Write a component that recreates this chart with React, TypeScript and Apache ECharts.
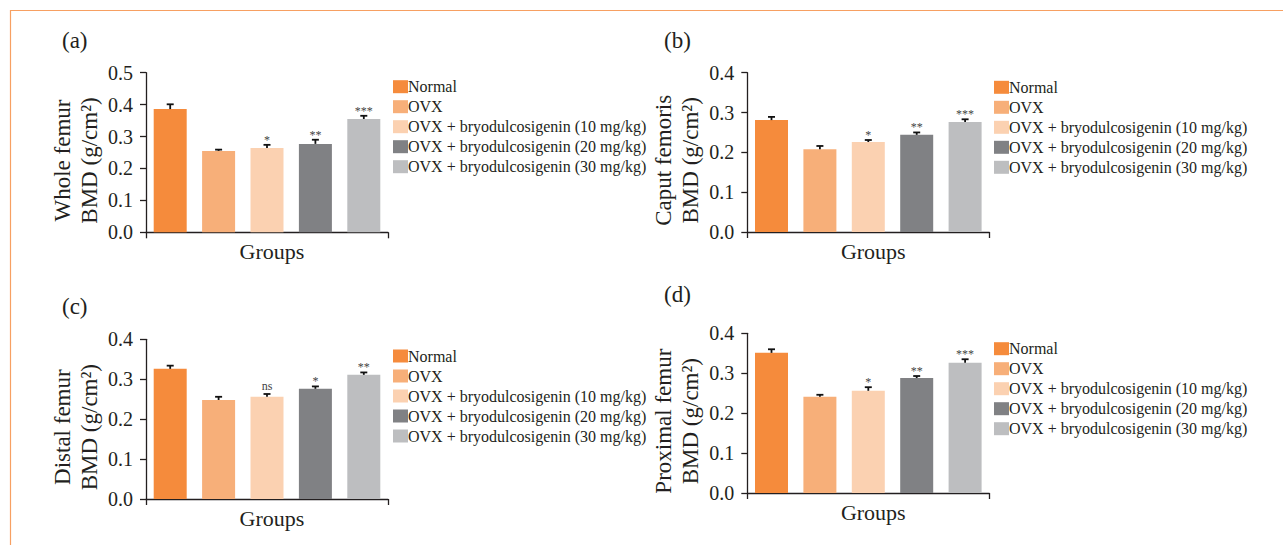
import React, { useEffect, useRef } from "react";
import * as echarts from "echarts";

const groups = [
  "Normal",
  "OVX",
  "OVX + bryodulcosigenin (10 mg/kg)",
  "OVX + bryodulcosigenin (20 mg/kg)",
  "OVX + bryodulcosigenin (30 mg/kg)",
];
const groupColors = ["#F58B3C", "#F7AF79", "#FBD1B1", "#808184", "#BDBEC0"];

const panelLabels = ["(a)", "(b)", "(c)", "(d)"];
const yNames = [
  "Whole femur\nBMD (g/cm²)",
  "Caput femoris\nBMD (g/cm²)",
  "Distal femur\nBMD (g/cm²)",
  "Proximal femur\nBMD (g/cm²)",
];
const yMax = [0.5, 0.4, 0.4, 0.4];
const xName = "Groups";

const wholeMean = [0.386, 0.255, 0.264, 0.277, 0.355];
const wholeErr = [0.015, 0.004, 0.01, 0.013, 0.01];
const wholeSig = ["", "", "*", "**", "***"];

const caputMean = [0.281, 0.208, 0.226, 0.244, 0.276];
const caputErr = [0.008, 0.008, 0.005, 0.006, 0.007];
const caputSig = ["", "", "*", "**", "***"];

const distalMean = [0.326, 0.248, 0.256, 0.276, 0.311];
const distalErr = [0.008, 0.008, 0.007, 0.006, 0.006];
const distalSig = ["", "", "ns", "*", "**"];

const proximalMean = [0.351, 0.241, 0.256, 0.288, 0.326];
const proximalErr = [0.009, 0.005, 0.009, 0.005, 0.009];
const proximalSig = ["", "", "*", "**", "***"];

const means = [wholeMean, caputMean, distalMean, proximalMean];
const errs = [wholeErr, caputErr, distalErr, proximalErr];
const sigs = [wholeSig, caputSig, distalSig, proximalSig];

const FONT = "'Liberation Serif', 'Times New Roman', serif";
const INK = "#231F20";

// layout
const grids = [
  { left: 146, top: 72.7, width: 242, height: 159.6 },
  { left: 747.3, top: 72.7, width: 242, height: 159.3 },
  { left: 146, top: 339.3, width: 242, height: 159.7 },
  { left: 747.3, top: 333.3, width: 242, height: 159.7 },
];
const legendPos = [
  { left: 393, top: 76.7 },
  { left: 994, top: 77.3 },
  { left: 393, top: 346 },
  { left: 994, top: 338.7 },
];
const labelPos = [
  { x: 62, y: 42 },
  { x: 664, y: 42 },
  { x: 62, y: 308 },
  { x: 664, y: 296 },
];

export default function App() {
  const ref = useRef<HTMLDivElement>(null);
  useEffect(() => {
    if (!ref.current) return;
    const chart = echarts.init(ref.current, undefined, { renderer: "svg" });

    const grid: any[] = [];
    const xAxis: any[] = [];
    const yAxis: any[] = [];
    const legend: any[] = [];
    const series: any[] = [];
    const graphic: any[] = [
      {
        type: "polyline",
        shape: { points: [[10.5, 545], [10.5, 10.5], [1283, 10.5]] },
        style: { stroke: "#F7A062", lineWidth: 1.2, fill: null },
        silent: true,
      },
    ];

    for (let p = 0; p < 4; p++) {
      grid.push({ ...grids[p], containLabel: false });
      xAxis.push({
        type: "category",
        gridIndex: p,
        data: groups,
        boundaryGap: true,
        name: xName,
        nameLocation: "middle",
        nameGap: 8,
        nameTextStyle: {
          fontFamily: FONT,
          fontSize: 22,
          color: INK,
          verticalAlign: "top",
          padding: [0, 0, 0, 10],
        },
        axisLine: { lineStyle: { color: INK, width: 1.3 } },
        axisTick: { alignWithLabel: true, length: 6, lineStyle: { color: INK, width: 1.3 } },
        axisLabel: { show: false },
        splitLine: { show: false },
      });
      xAxis.push({
        type: "value",
        gridIndex: p,
        min: 0,
        max: 1,
        interval: 1,
        position: "bottom",
        axisLine: { show: false },
        axisTick: { show: true, length: 6, lineStyle: { color: INK, width: 1.3 } },
        axisLabel: { show: false },
        splitLine: { show: false },
      });
      yAxis.push({
        type: "value",
        gridIndex: p,
        min: 0,
        max: yMax[p],
        interval: 0.1,
        name: yNames[p],
        nameLocation: "middle",
        nameGap: 43,
        nameTextStyle: {
          fontFamily: FONT,
          fontSize: 23,
          lineHeight: 27,
          color: INK,
          padding: [0, 16, 0, 0],
        },
        axisLine: { show: true, lineStyle: { color: INK, width: 1.3 } },
        axisTick: { show: true, length: 6, lineStyle: { color: INK, width: 1.3 } },
        axisLabel: {
          fontFamily: FONT,
          fontSize: 20,
          color: INK,
          margin: 13,
          formatter: (v: number) => v.toFixed(1),
        },
        splitLine: { show: false },
      });
      legend.push({
        orient: "vertical",
        left: legendPos[p].left,
        top: legendPos[p].top,
        data: groups,
        icon: "rect",
        itemWidth: 15,
        itemHeight: 13,
        itemGap: 0,
        padding: 0,
        selectedMode: false,
        textStyle: {
          fontFamily: FONT,
          fontSize: 16,
          color: INK,
          lineHeight: 20,
          padding: [0, 0, 0, -5],
        },
      });
      graphic.push({
        type: "text",
        left: labelPos[p].x,
        top: labelPos[p].y - 13,
        style: { text: panelLabels[p], font: `23px ${FONT}`, fill: INK },
      });

      for (let g = 0; g < groups.length; g++) {
        series.push({
          type: "bar",
          name: groups[g],
          xAxisIndex: p * 2,
          yAxisIndex: p,
          stack: "panel" + p,
          barWidth: 33,
          itemStyle: { color: groupColors[g] },
          data: means[p].map((v, i) => (i === g ? v : "-")),
        });
      }
      const sigArr = sigs[p];
      series.push({
        type: "custom",
        name: "err" + p,
        xAxisIndex: p * 2,
        yAxisIndex: p,
        z: 5,
        data: means[p].map((m, i) => [i, m, errs[p][i]]),
        renderItem: (params: any, api: any) => {
          const idx = api.value(0);
          const m = api.value(1);
          const e = api.value(2);
          const base = api.coord([idx, m]);
          const top = api.coord([idx, m + e]);
          const x = base[0];
          const children: any[] = [
            {
              type: "line",
              shape: { x1: x, y1: base[1], x2: x, y2: top[1] },
              style: { stroke: "#111", lineWidth: 1.8 },
            },
            {
              type: "line",
              shape: { x1: x - 3.5, y1: top[1], x2: x + 3.5, y2: top[1] },
              style: { stroke: "#111", lineWidth: 1.8 },
            },
          ];
          const s = sigArr[params.dataIndex];
          if (s) {
            children.push({
              type: "text",
              x: x,
              y: top[1] - (s === "ns" ? 2 : -1),
              style: {
                text: s,
                fontSize: 12,
                fontFamily: FONT,
                fill: "#444444",
                align: "center",
                verticalAlign: "bottom",
              },
            });
          }
          return { type: "group", children };
        },
      });
    }

    chart.setOption({
      animation: false,
      backgroundColor: "#ffffff",
      grid,
      xAxis,
      yAxis,
      legend,
      series,
      graphic,
    });
    return () => chart.dispose();
  }, []);
  return (
    <div
      ref={ref}
      style={{ position: "absolute", left: 0, top: 0, width: 1283, height: 545 }}
    />
  );
}
